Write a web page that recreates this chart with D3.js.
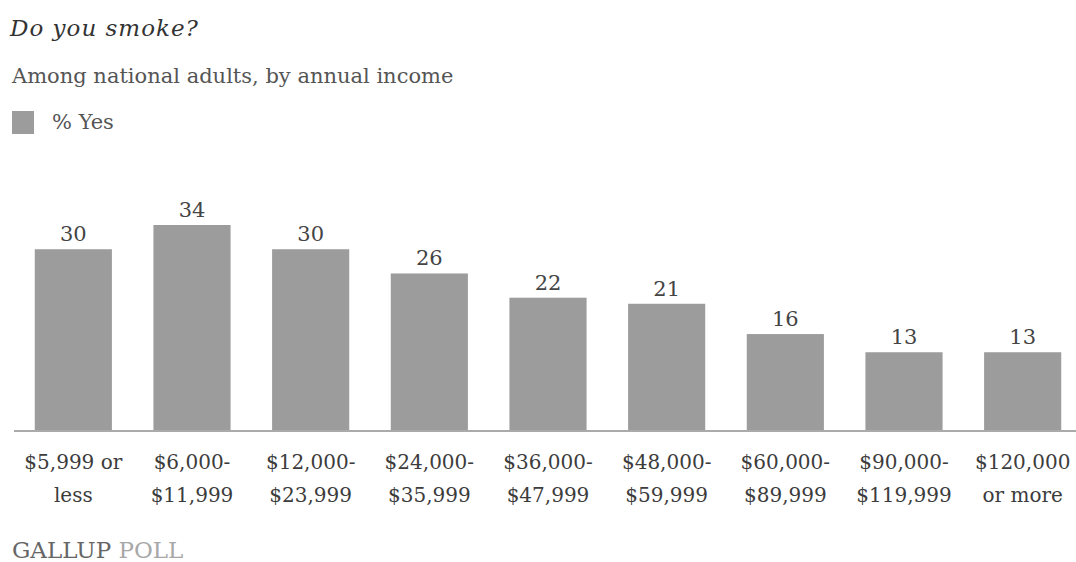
<!DOCTYPE html>
<html>
<head>
<meta charset="utf-8">
<script src="https://cdn.jsdelivr.net/npm/d3@7"></script>
<style>
  html, body { margin: 0; padding: 0; background: #fff; }
  svg { display: block; }
  text { font-family: "DejaVu Serif", "Liberation Serif", serif; }
</style>
</head>
<body>
<svg id="chart" width="1076" height="562"></svg>
<script>
// ---- data ----
const title = "Do you smoke?";
const subtitle = "Among national adults, by annual income";
const seriesName = "% Yes";
const categories = [
  "$5,999 or|less", "$6,000-|$11,999", "$12,000-|$23,999", "$24,000-|$35,999",
  "$36,000-|$47,999", "$48,000-|$59,999", "$60,000-|$89,999", "$90,000-|$119,999",
  "$120,000|or more"
];
const values = [30, 34, 30, 26, 22, 21, 16, 13, 13];
const sourceMain = "GALLUP";
const sourceSub = "POLL";

// ---- layout ----
const W = 1076, H = 562;
const svg = d3.select("#chart");
const barColor = "#9c9c9c";
const textColor = "#3c3c3c";

const x = d3.scaleBand()
  .domain(categories)
  .range([14, 1082])
  .paddingInner(0.35)
  .paddingOuter(0.175);

const y = d3.scaleLinear()
  .domain([0, 34])
  .range([431, 225]);

// title / subtitle
svg.append("text")
  .attr("x", 10).attr("y", 36)
  .attr("font-size", 23).attr("font-style", "italic")
  .attr("letter-spacing", 1)
  .attr("fill", "#333")
  .text(title);

svg.append("text")
  .attr("x", 12).attr("y", 83)
  .attr("font-size", 21)
  .attr("fill", "#555")
  .text(subtitle);

// legend
svg.append("rect")
  .attr("x", 12).attr("y", 111)
  .attr("width", 22).attr("height", 23)
  .attr("fill", barColor);
svg.append("text")
  .attr("x", 52).attr("y", 129)
  .attr("font-size", 21)
  .attr("fill", "#555")
  .text(seriesName);

// bars
svg.append("g").selectAll("rect")
  .data(values)
  .join("rect")
  .attr("x", (d, i) => x(categories[i]))
  .attr("width", x.bandwidth())
  .attr("y", d => y(d))
  .attr("height", d => y(0) - y(d))
  .attr("fill", barColor);

// value labels
svg.append("g").selectAll("text")
  .data(values)
  .join("text")
  .attr("x", (d, i) => x(categories[i]) + x.bandwidth() / 2)
  .attr("y", d => y(d) - 8)
  .attr("text-anchor", "middle")
  .attr("font-size", 21)
  .attr("fill", "#444")
  .text(d => d);

// x axis
const xAxis = d3.axisBottom(x).tickSize(0).tickPadding(0).tickFormat(() => "");
const gx = svg.append("g")
  .attr("transform", `translate(0,${y(0)})`)
  .call(xAxis);
gx.select(".domain").remove();
gx.append("line")
  .attr("x1", 14).attr("x2", W)
  .attr("y1", 0).attr("y2", 0)
  .attr("stroke", "#aaa").attr("stroke-width", 2);

gx.selectAll(".tick").each(function(d) {
  const parts = d.split("|");
  const t = d3.select(this).append("text")
    .attr("text-anchor", "middle")
    .attr("font-size", 20)
    .attr("fill", textColor);
  t.append("tspan").attr("x", 0).attr("y", 38).text(parts[0]);
  t.append("tspan").attr("x", 0).attr("y", 71).text(parts[1]);
});

// source
const src = svg.append("text")
  .attr("x", 12).attr("y", 558)
  .attr("font-size", 23);
src.append("tspan").attr("fill", "#666").text(sourceMain + " ");
src.append("tspan").attr("fill", "#a8a8a8").text(sourceSub);
</script>
</body>
</html>
